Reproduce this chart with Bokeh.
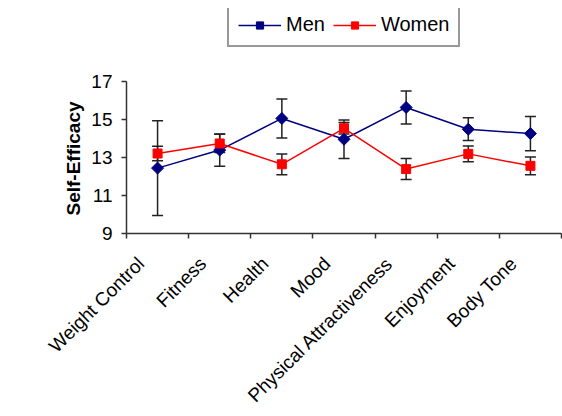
import math
from bokeh.plotting import figure
from bokeh.models import (ColumnDataSource, Range1d, LinearAxis, FixedTicker, Whisker,
                          TeeHead, Legend, LegendItem, Title)
from bokeh.embed import file_html
from bokeh.resources import INLINE

categories = ["Weight Control", "Fitness", "Health", "Mood",
              "Physical Attractiveness", "Enjoyment", "Body Tone"]
men_mean = [12.45, 13.4, 15.07, 13.97, 15.65, 14.5, 14.27]
men_err = [2.5, 0.85, 1.03, 1.02, 0.87, 0.6, 0.9]
women_mean = [13.22, 13.75, 12.65, 14.55, 12.4, 13.2, 12.57]
women_err = [0.38, 0.48, 0.55, 0.3, 0.55, 0.42, 0.47]
y_ticks = [9, 11, 13, 15, 17]

FONT = "Liberation Sans"

# category i is centred at i + 0.5 on a numeric scale spanning [0, n]
n = len(categories)
centers = [i + 0.5 for i in range(n)]
bounds = list(range(n + 1))

men = ColumnDataSource(dict(
    x=centers, y=men_mean,
    up=[m + e for m, e in zip(men_mean, men_err)],
    lo=[m - e for m, e in zip(men_mean, men_err)]))
women = ColumnDataSource(dict(
    x=centers, y=women_mean,
    up=[m + e for m, e in zip(women_mean, women_err)],
    lo=[m - e for m, e in zip(women_mean, women_err)]))

# frame: 153 px for the 9..17 span; extra headroom on top holds the legend
FRAME_H = 227
px_per_unit = 153 / (y_ticks[-1] - y_ticks[0])
y_top = y_ticks[0] + FRAME_H / px_per_unit

p = figure(width=562, height=416, x_range=Range1d(0, n),
           y_range=Range1d(y_ticks[0], y_top),
           output_backend="svg", toolbar_location=None,
           x_axis_location=None, y_axis_location="left",
           min_border_left=126, min_border_right=1,
           min_border_top=416 - 181 - FRAME_H, min_border_bottom=181)
p.outline_line_color = None
p.grid.visible = False
p.background_fill_color = "white"
p.border_fill_color = "white"

# y axis
ya = p.yaxis[0]
ya.bounds = (y_ticks[0], y_ticks[-1])
ya.ticker = FixedTicker(ticks=y_ticks)
ya.axis_line_color = "#333333"
ya.axis_line_width = 1.5
ya.major_tick_line_color = "#333333"
ya.major_tick_line_width = 1.5
ya.major_tick_in = 0
ya.major_tick_out = 5
ya.minor_tick_line_color = None
ya.major_label_text_font = FONT
ya.major_label_text_font_size = "19px"
ya.major_label_text_color = "#000000"
ya.major_label_standoff = 9

# empty spacer axis (invisible white ticks) that pushes the y title outwards
spacer = LinearAxis(ticker=FixedTicker(ticks=[]), axis_line_color=None,
                    major_tick_line_color="white", minor_tick_line_color=None,
                    major_tick_in=0, major_tick_out=52, major_label_standoff=0)
p.add_layout(spacer, "left")

# y axis title, centred on the 9..17 span (not on the taller frame)
ytitle = Title(text="Self-Efficacy", align="left", offset=18, standoff=10,
               text_font=FONT, text_font_style="bold", text_font_size="19px",
               text_color="#000000")
p.add_layout(ytitle, "left")

# x axis: ticks at category boundaries
tick_axis = LinearAxis(ticker=FixedTicker(ticks=bounds),
                       major_label_overrides={b: "" for b in bounds},
                       axis_line_color="#333333", axis_line_width=1.5,
                       major_tick_line_color="#333333", major_tick_line_width=1.5,
                       major_tick_in=0, major_tick_out=5,
                       minor_tick_line_color=None,
                       major_label_text_font_size="1px", major_label_standoff=0)
p.add_layout(tick_axis, "below")

# x axis: category labels, nudged slightly left of the category centres
shift = 0.27
p.extra_x_ranges = {"labels": Range1d(shift, n + shift)}
label_axis = LinearAxis(x_range_name="labels", ticker=FixedTicker(ticks=centers),
                        major_label_overrides={c: name for c, name in zip(centers, categories)},
                        axis_line_color=None, major_tick_line_color=None,
                        minor_tick_line_color=None,
                        major_tick_in=0, major_tick_out=0,
                        major_label_orientation=math.pi / 4,
                        major_label_text_font=FONT,
                        major_label_text_font_size="19px",
                        major_label_text_color="#000000",
                        major_label_standoff=22)
p.add_layout(label_axis, "below")

# series
men_line = p.line("x", "y", source=men, line_color="#000080", line_width=1.5)
men_pts = p.scatter("x", "y", source=men, marker="square", angle=math.pi / 4, size=8.5,
                    fill_color="#000080", line_color="#000080", line_width=1)
women_line = p.line("x", "y", source=women, line_color="#FF0000", line_width=1.5)
women_pts = p.scatter("x", "y", source=women, marker="square", size=9,
                      fill_color="#FF0000", line_color="#FF0000", line_width=1)

for src in (men, women):
    w = Whisker(source=src, base="x", upper="up", lower="lo",
                line_color="#222222", line_width=1.5,
                upper_head=TeeHead(size=11, line_color="#222222", line_width=1.5),
                lower_head=TeeHead(size=11, line_color="#222222", line_width=1.5))
    p.add_layout(w)

legend = Legend(items=[LegendItem(label="Men", renderers=[men_line, men_pts]),
                       LegendItem(label="Women", renderers=[women_line, women_pts])],
                orientation="horizontal", location=(101, 186),
                glyph_width=43, glyph_height=18, label_height=18,
                label_standoff=5, spacing=8, padding=9, margin=0,
                label_text_font=FONT, label_text_font_size="20px",
                label_text_color="#000000",
                border_line_color="#333333", border_line_width=2,
                background_fill_color="white", background_fill_alpha=1)
p.add_layout(legend, "center")

open("out.html", "w").write(file_html(p, INLINE))
